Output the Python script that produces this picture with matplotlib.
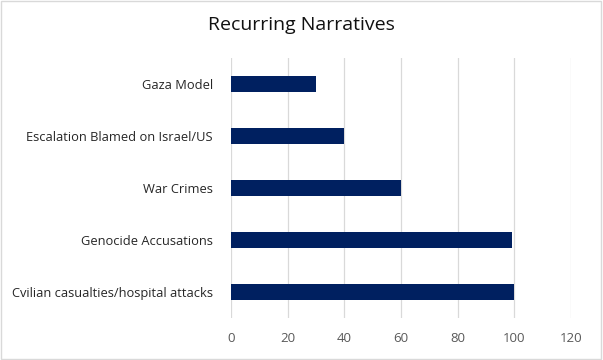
import matplotlib
matplotlib.use("Agg")
import matplotlib.pyplot as plt

# chart data (bottom to top as drawn)
categories = [
    "Cvilian casualties/hospital attacks",
    "Genocide Accusations",
    "War Crimes",
    "Escalation Blamed on Israel/US",
    "Gaza Model",
]
values = [100, 99, 60, 40, 30]
xticks = [0, 20, 40, 60, 80, 100, 120]

plt.rcParams["font.family"] = ["Open Sans", "DejaVu Sans"]

fig = plt.figure(figsize=(6.03, 3.6), dpi=100)
ax = fig.add_axes([231 / 603, 1 - 318 / 360, 340 / 603, 260 / 360])

ax.barh(range(len(categories)), values, height=0.31, color="#002060", zorder=3)

ax.set_xlim(0, 120)
ax.set_ylim(-0.5, len(categories) - 0.5)
ax.set_xticks(xticks)
ax.set_xticklabels([str(t) for t in xticks], fontsize=9.5, color="#595959")
ax.set_yticks(range(len(categories)))
ax.set_yticklabels(categories, fontsize=9.3, color="#262626")
ax.tick_params(axis="y", length=0, pad=13)
ax.tick_params(axis="x", length=0, pad=10)

ax.grid(axis="x", color="#D9D9D9", linewidth=0.9, zorder=0)
for s in ax.spines.values():
    s.set_visible(False)

fig.text(0.5, 1 - 25 / 360, "Recurring Narratives", ha="center", va="center",
         fontsize=14, color="#111111")

# light border around chart area
border = plt.Rectangle((0.002, 0.003), 0.995, 0.994, transform=fig.transFigure,
                       fill=False, edgecolor="#D9D9D9", linewidth=1)
fig.patches.append(border)

fig.savefig("out.png", dpi=100)
